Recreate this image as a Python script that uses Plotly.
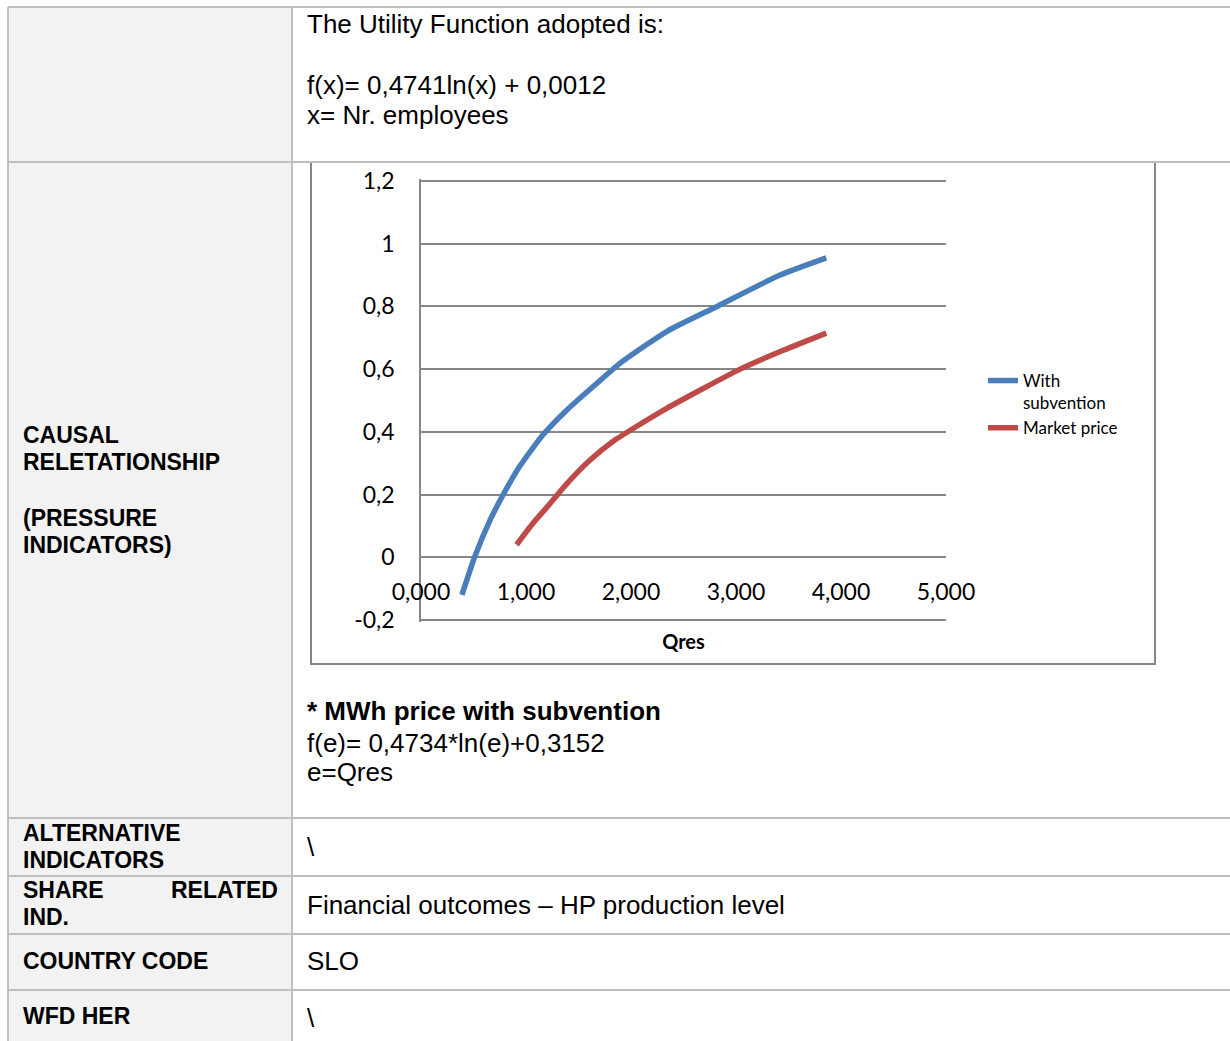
import plotly.graph_objects as go

W, H = 1230, 1041

# Utility vs. Qres (thousands), two pricing scenarios
qres_subvention = [0.39, 0.51, 0.66, 0.80, 0.94, 1.16, 1.39, 1.71, 1.90, 2.34, 2.82, 3.42, 3.86]
util_subvention = [-0.12, 0.0, 0.12, 0.21, 0.29, 0.39, 0.47, 0.565, 0.62, 0.72, 0.80, 0.90, 0.955]
qres_market = [0.91, 1.07, 1.20, 1.39, 1.61, 1.83, 2.09, 2.34, 3.04, 3.45, 3.86]
util_market = [0.04, 0.11, 0.16, 0.235, 0.31, 0.37, 0.425, 0.475, 0.60, 0.66, 0.715]

series_names = ["With<br>subvention", "Market price"]
series_colors = ["#4a7ebb", "#be4b48"]

x_tickvals = [0, 1, 2, 3, 4, 5]
x_ticktext = ["0,000", "1,000", "2,000", "3,000", "4,000", "5,000"]
y_tickvals = [-0.2, 0, 0.2, 0.4, 0.6, 0.8, 1.0, 1.2]
y_ticktext = ["-0,2", "0", "0,2", "0,4", "0,6", "0,8", "1", "1,2"]
x_title = "Qres"

# Table text
label_cells = [
    [("CAUSAL", 435), ("RELETATIONSHIP", 462), ("(PRESSURE", 518), ("INDICATORS)", 545)],
    [("ALTERNATIVE", 833), ("INDICATORS", 860)],
    [("IND.", 917)],
    [("COUNTRY CODE", 961)],
    [("WFD HER", 1016)],
]
content_cells = [
    ("The Utility Function adopted is:", 24, False),
    ("f(x)= 0,4741ln(x) + 0,0012", 85, False),
    ("x= Nr. employees", 115, False),
    ("* MWh price with subvention", 711, True),
    ("f(e)= 0,4734*ln(e)+0,3152", 743, False),
    ("e=Qres", 772, False),
    ("\\", 847, False),
    ("Financial outcomes – HP production level", 905, False),
    ("SLO", 961, False),
    ("\\", 1018, False),
]

# Page geometry (pixels)
TBL_LEFT, COL_DIV, TBL_RIGHT = 8, 292, 1230
ROW_LINES = [7, 162, 818, 876, 934, 990]
CHART_BOX = (311, 162, 1155, 664)
PLOT_X = (421, 946)
Y_TOP_PX, Y_BOT_PX = 181, 620      # pixel rows of the first / last y tick
Y_PAD = 0.005                      # keeps the edge gridlines inside the plot


def px(x):
    return x / W


def py(y):
    return 1 - y / H


BODY_FONT = "Liberation Sans"
CHART_FONT = "Lato"

fig = go.Figure()
for xs, ys, name, color in zip([qres_subvention, qres_market],
                               [util_subvention, util_market],
                               series_names, series_colors):
    fig.add_trace(go.Scatter(
        x=xs, y=ys, name=name, mode="lines",
        line=dict(color=color, width=5.5, shape="spline", smoothing=0.6),
    ))

shapes = []
# column backgrounds
shapes.append(dict(type="rect", xref="paper", yref="paper", layer="below",
                   x0=px(TBL_LEFT), x1=px(COL_DIV), y0=0, y1=py(ROW_LINES[0]),
                   fillcolor="#f2f2f2", line=dict(width=0)))
# chart frame
cx0, cy0, cx1, cy1 = CHART_BOX
shapes.append(dict(type="rect", xref="paper", yref="paper", layer="below",
                   x0=px(cx0), x1=px(cx1), y0=py(cy1), y1=py(cy0),
                   fillcolor="white", line=dict(color="#878787", width=2)))
# table rules
for yy in ROW_LINES:
    shapes.append(dict(type="line", xref="paper", yref="paper",
                       x0=px(TBL_LEFT), x1=px(TBL_RIGHT), y0=py(yy), y1=py(yy),
                       line=dict(color="#bfbfbf", width=2)))
for xx in (TBL_LEFT, COL_DIV):
    shapes.append(dict(type="line", xref="paper", yref="paper",
                       x0=px(xx), x1=px(xx), y0=py(ROW_LINES[0]), y1=0,
                       line=dict(color="#bfbfbf", width=2)))

annotations = []
for cell in label_cells:
    for text, yy in cell:
        annotations.append(dict(text=f"<b>{text}</b>", x=px(21), y=py(yy),
                                xref="paper", yref="paper", xanchor="left", yanchor="middle",
                                showarrow=False,
                                font=dict(family=BODY_FONT, size=23, color="black")))
# justified "SHARE      RELATED"
annotations.append(dict(text="<b>SHARE</b>", x=px(21), y=py(890), xref="paper", yref="paper",
                        xanchor="left", yanchor="middle", showarrow=False,
                        font=dict(family=BODY_FONT, size=23, color="black")))
annotations.append(dict(text="<b>RELATED</b>", x=px(280), y=py(890), xref="paper", yref="paper",
                        xanchor="right", yanchor="middle", showarrow=False,
                        font=dict(family=BODY_FONT, size=23, color="black")))
for text, yy, bold in content_cells:
    annotations.append(dict(text=f"<b>{text}</b>" if bold else text, x=px(305), y=py(yy),
                            xref="paper", yref="paper", xanchor="left", yanchor="middle",
                            showarrow=False,
                            font=dict(family=BODY_FONT, size=26, color="black")))

# y axis: place the outer ticks at fixed rows, with a small range pad
y_lo, y_hi = y_tickvals[0], y_tickvals[-1]
ppu = (Y_BOT_PX - Y_TOP_PX) / (y_hi - y_lo)
y_rng = [y_lo - Y_PAD, y_hi + Y_PAD]
y_dom = [py(Y_BOT_PX + Y_PAD * ppu), py(Y_TOP_PX - Y_PAD * ppu)]
zero_pos = y_dom[0] + (0 - y_rng[0]) / (y_rng[1] - y_rng[0]) * (y_dom[1] - y_dom[0])

fig.update_layout(
    width=W, height=H, autosize=False,
    margin=dict(l=0, r=0, t=0, b=0, pad=0, autoexpand=False),
    paper_bgcolor="white", plot_bgcolor="white",
    shapes=shapes, annotations=annotations,
    showlegend=True,
    legend=dict(x=px(983), y=py(363), xanchor="left", yanchor="top",
                valign="top", bgcolor="rgba(0,0,0,0)",
                font=dict(family=CHART_FONT, size=17, color="black"),
                tracegroupgap=0),
    xaxis=dict(domain=[px(PLOT_X[0]), px(PLOT_X[1])], range=[0, 5],
               anchor="free", position=zero_pos, automargin=False,
               tickvals=x_tickvals, ticktext=x_ticktext,
               showgrid=False, showline=False, zeroline=False, ticks="",
               ticklabelstandoff=19,
               tickfont=dict(family=CHART_FONT, size=23, color="black"),
               title=dict(text=f"<b>{x_title}</b>", standoff=30,
                          font=dict(family=CHART_FONT, size=20, color="black"))),
    yaxis=dict(domain=y_dom, range=y_rng, automargin=False,
               tickvals=y_tickvals, ticktext=y_ticktext,
               showgrid=True, gridcolor="#878787", gridwidth=1.5,
               showline=True, linecolor="#878787", linewidth=1.5,
               zeroline=False, ticks="", ticklabelstandoff=20,
               tickfont=dict(family=CHART_FONT, size=23, color="black")),
)

fig.write_html("out.html")
